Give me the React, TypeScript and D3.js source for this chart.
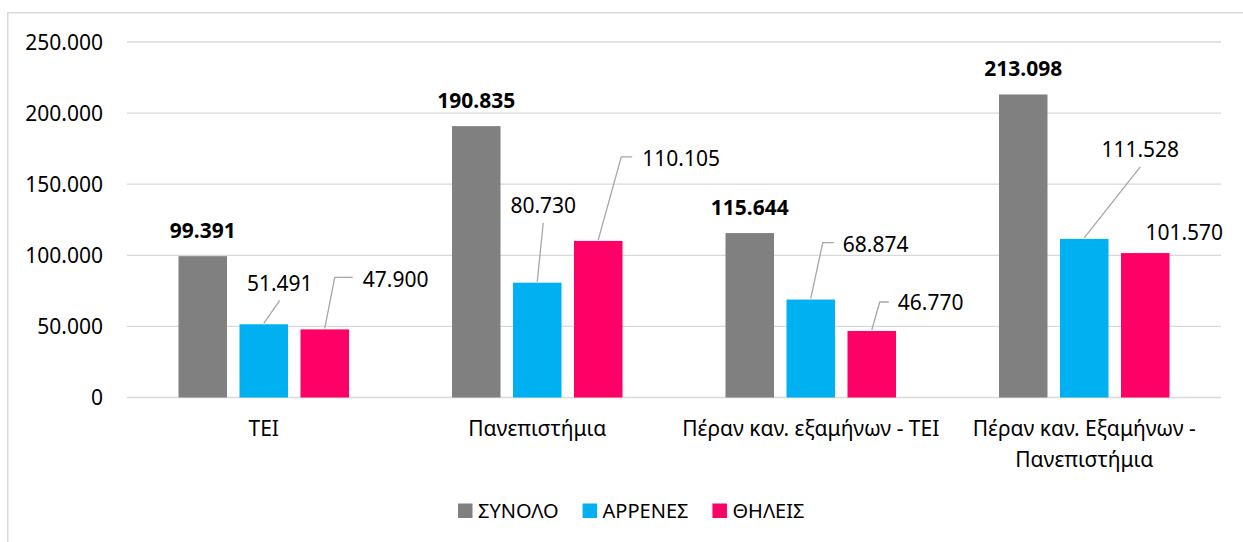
import React from "react";
import * as d3 from "d3";

const categories = [
  "ΤΕΙ",
  "Πανεπιστήμια",
  "Πέραν καν. εξαμήνων - ΤΕΙ",
  "Πέραν καν. Εξαμήνων - Πανεπιστήμια",
];
const seriesNames = ["ΣΥΝΟΛΟ", "ΑΡΡΕΝΕΣ", "ΘΗΛΕΙΣ"];
const totalValues = [99391, 190835, 115644, 213098];
const maleValues = [51491, 80730, 68874, 111528];
const femaleValues = [47900, 110105, 46770, 101570];
const yTicks = [0, 50000, 100000, 150000, 200000, 250000];

const colors = ["#808080", "#00b0f0", "#ff0066"];

// Manual label placement (relative to bar top-centre) for male / female labels
type LabelLayout = { dx: number; dy: number; anchor: string; leader: [number, number][] };
const maleLabelLayout: LabelLayout[] = [
  { dx: 16, dy: -33, anchor: "middle", leader: [[0, -1], [16, -24]] },
  { dx: 6, dy: -70, anchor: "middle", leader: [[0, -1], [6, -60]] },
  { dx: 32, dy: -48, anchor: "start", leader: [[0, -1], [12, -57], [23, -57]] },
  { dx: 56, dy: -82, anchor: "middle", leader: [[0, -1], [56, -72]] },
];
const femaleLabelLayout: LabelLayout[] = [
  { dx: 38, dy: -42, anchor: "start", leader: [[0, -1], [10, -52], [28, -52]] },
  { dx: 44, dy: -75, anchor: "start", leader: [[0, -1], [23, -84], [34, -84]] },
  { dx: 26, dy: -21, anchor: "start", leader: [[0, -1], [8, -29], [17, -29]] },
  { dx: 39, dy: -13, anchor: "middle", leader: [] },
];

const W = 1243;
const H = 542;
const FONT = "'Noto Sans', 'DejaVu Sans', sans-serif";

const fmt = (v: number) =>
  d3.format(",")(v).replace(/,/g, ".");

let _ctx: CanvasRenderingContext2D | null = null;
function measure(text: string, font: string) {
  if (!_ctx) _ctx = document.createElement("canvas").getContext("2d");
  if (!_ctx) return text.length * 10;
  _ctx.font = font;
  return _ctx.measureText(text).width;
}

function wrap(text: string, maxW: number, font: string) {
  const words = text.split(" ");
  const lines: string[] = [];
  let cur = "";
  for (const w of words) {
    const t = cur ? cur + " " + w : w;
    if (measure(t, font) > maxW && cur) {
      lines.push(cur);
      cur = w;
    } else cur = t;
  }
  if (cur) lines.push(cur);
  return lines;
}

export default function App() {
  const plotL = 127;
  const plotR = 1221;
  const x0 = d3.scaleBand<string>().domain(categories).range([plotL, plotR]);
  const x1 = d3
    .scaleBand<string>()
    .domain(seriesNames)
    .range([45.25, 228.25])
    .paddingInner(12.5 / 61)
    .paddingOuter(6.25 / 61);
  const y = d3.scaleLinear().domain([0, 250000]).range([397.5, 42]);

  const seriesValues = [totalValues, maleValues, femaleValues];
  const catFontSize = 21;
  const catFont = `${catFontSize}px 'Noto Sans'`;
  const legSize = 20;
  const legFont = `${legSize}px 'Noto Sans'`;

  // legend layout
  let lx = 458;
  const legendItems = seriesNames.map((name, i) => {
    const item = { name, x: lx, color: colors[i] };
    lx = lx + 20 + measure(name, legFont) + 24;
    return item;
  });

  return (
    <svg
      width={W}
      height={H}
      style={{ position: "absolute", left: 0, top: 0, background: "#fff" }}
      fontFamily={FONT}
    >
      <rect x={0} y={0} width={W} height={H} fill="#fff" />
      <rect
        x={7.75}
        y={12.75}
        width={W + 20}
        height={H + 20}
        fill="none"
        stroke="#d9d9d9"
        strokeWidth={1.5}
      />
      {/* gridlines */}
      {yTicks.map((t) => (
        <line
          key={t}
          x1={plotL}
          x2={plotR}
          y1={y(t)}
          y2={y(t)}
          stroke="#d9d9d9"
          strokeWidth={1.3}
        />
      ))}
      {/* y tick labels */}
      {yTicks.map((t) => (
        <text
          key={"l" + t}
          x={103}
          y={y(t)}
          dy="0.36em"
          textAnchor="end"
          fontSize={catFontSize}
          fill="#000"
        >
          {fmt(t)}
        </text>
      ))}
      {/* bars */}
      {categories.map((c, ci) => (
        <g key={c}>
          {seriesNames.map((s, si) => {
            const v = seriesValues[si][ci];
            return (
              <rect
                key={s}
                x={(x0(c) as number) + (x1(s) as number)}
                y={y(v)}
                width={x1.bandwidth()}
                height={y(0) - y(v)}
                fill={colors[si]}
              />
            );
          })}
        </g>
      ))}
      {/* total labels */}
      {categories.map((c, ci) => {
        const cx = (x0(c) as number) + (x1(seriesNames[0]) as number) + x1.bandwidth() / 2;
        return (
          <text
            key={"t" + c}
            x={cx}
            y={y(totalValues[ci]) - 18}
            textAnchor="middle"
            fontWeight="bold"
            fontSize={21}
            fill="#000"
          >
            {fmt(totalValues[ci])}
          </text>
        );
      })}
      {/* male / female labels with leaders */}
      {[maleLabelLayout, femaleLabelLayout].map((layout, li) =>
        categories.map((c, ci) => {
          const s = seriesNames[li + 1];
          const v = seriesValues[li + 1][ci];
          const cx = (x0(c) as number) + (x1(s) as number) + x1.bandwidth() / 2;
          const top = y(v);
          const L = layout[ci];
          const pts = L.leader.map(([dx, dy]) => [cx + dx, top + dy] as [number, number]);
          return (
            <g key={"m" + li + c}>
              {pts.length > 1 && (
                <path
                  d={d3.line()(pts) || ""}
                  fill="none"
                  stroke="#a6a6a6"
                  strokeWidth={1.3}
                />
              )}
              <text
                x={cx + L.dx}
                y={top + L.dy}
                textAnchor={L.anchor as any}
                fontSize={21}
                fill="#000"
              >
                {fmt(v)}
              </text>
            </g>
          );
        })
      )}
      {/* category labels */}
      {categories.map((c) => {
        const lines = wrap(c, x0.bandwidth() - 10, catFont);
        const cx = (x0(c) as number) + x0.bandwidth() / 2;
        return (
          <text key={"c" + c} textAnchor="middle" fontSize={catFontSize} fill="#000">
            {lines.map((ln, i) => (
              <tspan key={i} x={cx} y={436 + i * 31}>
                {ln}
              </tspan>
            ))}
          </text>
        );
      })}
      {/* legend */}
      {legendItems.map((it) => (
        <g key={it.name}>
          <rect x={it.x} y={503.5} width={14.5} height={14.5} fill={it.color} />
          <text x={it.x + 20} y={517.5} fontSize={legSize} fill="#000">
            {it.name}
          </text>
        </g>
      ))}
    </svg>
  );
}
